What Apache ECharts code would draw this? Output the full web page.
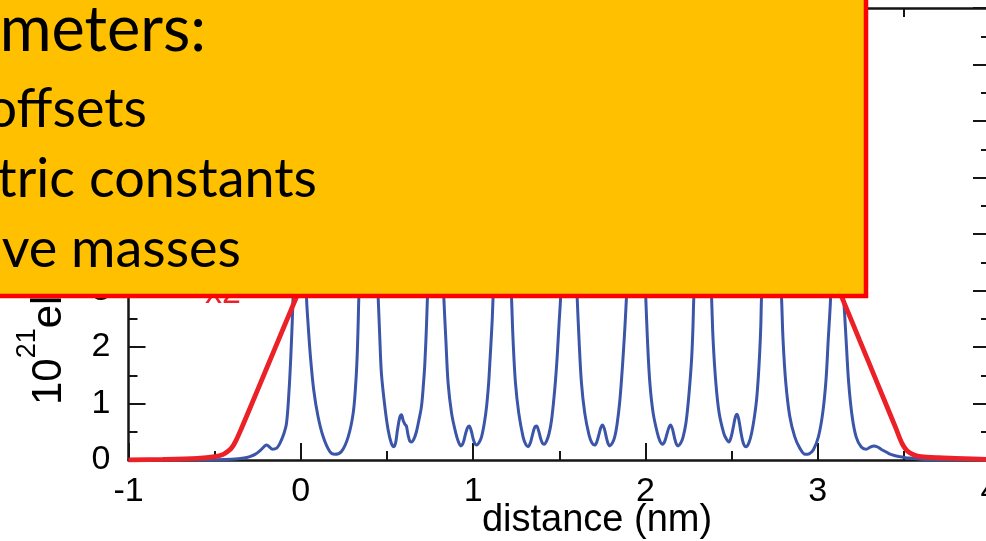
<!DOCTYPE html>
<html>
<head>
<meta charset="utf-8">
<script src="https://cdn.jsdelivr.net/npm/echarts@6/dist/echarts.min.js"></script>
<style>
  html, body { margin: 0; padding: 0; background: #ffffff; overflow: hidden; }
  #chart { width: 986px; height: 541px; }
</style>
</head>
<body>
<div id="chart"></div>
<script>
// Electron density across the superlattice (blue) and the band-edge profile scaled x2 (red)
const blueX = [
  -1.0, -0.7, -0.5, -0.4, -0.33, -0.296, -0.265, -0.238, -0.215, -0.2, -0.185, -0.164, -0.14, -0.122, -0.1, -0.083, -0.068, -0.058, -0.05, -0.045,
  -0.035, -0.025, -0.015, -0.006, 0.004, 0.014, 0.024, 0.033, 0.042, 0.056, 0.075, 0.1, 0.13, 0.168, 0.197, 0.236, 0.275, 0.304, 0.319, 0.327, 0.333, 0.337,
  0.35, 0.365, 0.38, 0.392, 0.405, 0.42, 0.435, 0.449,
  0.459, 0.468, 0.488, 0.507, 0.525, 0.54, 0.55, 0.561, 0.574, 0.584, 0.594, 0.605, 0.613, 0.622, 0.632, 0.642, 0.655, 0.671, 0.685, 0.7, 0.712, 0.72, 0.73, 0.735,
  0.748, 0.762, 0.772, 0.782, 0.792, 0.805, 0.818, 0.83,
  0.842, 0.855, 0.875, 0.9, 0.915, 0.929, 0.942, 0.955, 0.967, 0.977, 0.988, 1.0, 1.01, 1.02, 1.035, 1.049, 1.065, 1.078, 1.09, 1.097, 1.11, 1.116,
  1.13, 1.145, 1.158, 1.169, 1.18, 1.195, 1.21, 1.223,
  1.232, 1.246, 1.265, 1.29, 1.305, 1.319, 1.332, 1.345, 1.358, 1.368, 1.38, 1.392, 1.402, 1.412, 1.427, 1.441, 1.455, 1.468, 1.478, 1.488, 1.499, 1.508,
  1.52, 1.535, 1.546, 1.556, 1.566, 1.578, 1.592, 1.604,
  1.615, 1.629, 1.648, 1.673, 1.69, 1.706, 1.718, 1.73, 1.742, 1.751, 1.762, 1.775, 1.785, 1.793, 1.808, 1.822, 1.835, 1.85, 1.862, 1.872, 1.882, 1.89,
  1.905, 1.92, 1.935, 1.946, 1.958, 1.972, 1.988, 2.002,
  2.012, 2.026, 2.045, 2.07, 2.085, 2.1, 2.112, 2.125, 2.137, 2.146, 2.157, 2.17, 2.18, 2.19, 2.205, 2.219, 2.235, 2.248, 2.258, 2.269, 2.276, 2.281,
  2.295, 2.31, 2.322, 2.332, 2.343, 2.357, 2.371, 2.384,
  2.393, 2.409, 2.428, 2.455, 2.47, 2.484, 2.497, 2.51, 2.522, 2.532, 2.543, 2.555, 2.568, 2.583, 2.6, 2.616, 2.632, 2.645, 2.655, 2.664, 2.67, 2.674,
  2.69, 2.705, 2.72, 2.731, 2.743, 2.758, 2.775, 2.79,
  2.799, 2.815, 2.838, 2.867, 2.896, 2.927, 2.95, 2.975, 3.004, 3.029, 3.048, 3.061, 3.075,
  3.085, 3.095, 3.104, 3.112, 3.12, 3.13, 3.14, 3.148,
  3.156, 3.165, 3.18, 3.2, 3.223, 3.252, 3.281, 3.305, 3.326, 3.348, 3.368, 3.392, 3.416, 3.445, 3.474, 3.51, 3.55, 3.6, 3.65, 3.8, 4.0
];
const blueY = [
  0, 0, 0.005, 0.015, 0.035, 0.06, 0.1, 0.16, 0.23, 0.265, 0.24, 0.19, 0.21, 0.29, 0.45, 0.65, 1.24, 1.83, 2.42, 2.88,
  3.9, 5.0, 6.0, 6.5, 6.0, 5.0, 3.9, 2.88, 2.42, 1.83, 1.24, 0.77, 0.41, 0.15, 0.1, 0.15, 0.41, 0.83, 1.36, 1.83, 2.42, 2.88,
  3.7, 4.8, 5.7, 6.0, 5.7, 4.8, 3.7, 2.88,
  2.12, 1.53, 0.94, 0.53, 0.3, 0.235, 0.3, 0.53, 0.75, 0.8, 0.7, 0.63, 0.6, 0.45, 0.34, 0.32, 0.36, 0.5, 0.7, 0.94, 1.35, 1.71, 2.42, 2.88,
  3.8, 4.9, 5.6, 5.9, 5.6, 4.9, 3.8, 2.88,
  2.12, 1.36, 0.83, 0.47, 0.32, 0.25, 0.3, 0.45, 0.57, 0.6, 0.53, 0.38, 0.29, 0.265, 0.31, 0.41, 0.65, 0.94, 1.35, 1.71, 2.42, 2.88,
  3.8, 4.9, 5.6, 5.9, 5.6, 4.9, 3.8, 2.88,
  2.12, 1.36, 0.83, 0.41, 0.28, 0.235, 0.3, 0.45, 0.58, 0.6, 0.52, 0.38, 0.3, 0.28, 0.34, 0.47, 0.7, 1.06, 1.4, 1.83, 2.42, 2.88,
  3.8, 4.9, 5.6, 5.9, 5.6, 4.9, 3.8, 2.88,
  2.12, 1.36, 0.83, 0.44, 0.3, 0.265, 0.32, 0.45, 0.58, 0.62, 0.55, 0.38, 0.28, 0.25, 0.3, 0.41, 0.62, 1.0, 1.45, 1.9, 2.4, 2.88,
  3.8, 4.9, 5.6, 5.9, 5.6, 4.9, 3.8, 2.88,
  2.12, 1.36, 0.83, 0.47, 0.33, 0.28, 0.33, 0.46, 0.58, 0.62, 0.55, 0.38, 0.28, 0.25, 0.3, 0.41, 0.65, 1.0, 1.35, 1.83, 2.35, 2.88,
  3.8, 4.9, 5.6, 5.9, 5.6, 4.9, 3.8, 2.88,
  2.12, 1.36, 0.83, 0.47, 0.37, 0.32, 0.4, 0.58, 0.76, 0.81, 0.7, 0.48, 0.3, 0.235, 0.3, 0.47, 0.75, 1.06, 1.45, 1.94, 2.4, 2.88,
  3.8, 4.9, 5.6, 5.9, 5.6, 4.9, 3.8, 2.88,
  2.12, 1.36, 0.77, 0.41, 0.21, 0.1, 0.11, 0.18, 0.41, 0.83, 1.41, 2.12, 2.88,
  3.9, 5.0, 5.8, 6.2, 5.8, 5.0, 3.9, 3.0,
  2.6, 2.12, 1.36, 0.77, 0.41, 0.235, 0.19, 0.23, 0.25, 0.23, 0.19, 0.15, 0.11, 0.08, 0.06, 0.04, 0.03, 0.015, 0.01, 0, 0
];
const redX = [
  -1.0, -0.8, -0.6, -0.5, -0.45, -0.42, -0.4, -0.38, -0.35, -0.3, -0.2, -0.1, -0.025,
  0.05, 0.1, 0.2, 0.25, 0.35, 0.6, 1.0, 1.5, 2.0, 2.5, 2.8, 2.85, 2.9, 3.0, 3.1,
  3.147, 3.2, 3.3, 3.4, 3.45, 3.49, 3.52, 3.56, 3.6, 3.7, 3.8, 3.9, 4.0
];
const redY = [
  0, 0.01, 0.03, 0.06, 0.1, 0.16, 0.22, 0.32, 0.52, 0.88, 1.61, 2.34, 2.885,
  3.43, 3.8, 4.5, 4.85, 5.3, 5.35, 5.4, 5.4, 5.4, 5.35, 5.3, 5.0, 4.66, 3.92, 3.18,
  2.83, 2.44, 1.7, 0.96, 0.59, 0.29, 0.16, 0.09, 0.06, 0.04, 0.03, 0.02, 0.01
];
const xRange = [-1, 4];
const yRange = [0, 8];
const xTitle = 'distance (nm)';
const yTitleBase = '10';
const yTitleExp = '21';
const yTitleRest = 'electrons/cm³';
const scaleNote = 'x2';
const boxLines = ['Parameters:', 'band offsets', 'dielectric constants', 'effective masses'];

const ink = '#151515';
const tickFont = 'Liberation Sans, Arial, Helvetica, sans-serif';

function axisBase(showLabels) {
  return {
    type: 'value',
    axisLine: { show: true, onZero: false, lineStyle: { color: ink, width: 2.5 } },
    axisTick: { show: true, inside: true, length: 17, lineStyle: { color: ink, width: 2 } },
    minorTick: { show: true, splitNumber: 2, length: 9, lineStyle: { color: ink, width: 2 } },
    splitLine: { show: false },
    minorSplitLine: { show: false },
    axisLabel: { show: showLabels, color: '#000', fontFamily: tickFont, fontSize: 34 }
  };
}

// Vertical axis title, read bottom to top: base, raised exponent, then the unit
const yTitleSize = 42;
const yTitleExpSize = 27;
const yTitleStart = 405;
const baseLen = yTitleBase.length * 0.556 * yTitleSize;
const expLen = yTitleExp.length * 0.556 * yTitleExpSize;

function verticalText(text, x, y, size) {
  return {
    type: 'text', x: x, y: y, rotation: Math.PI / 2, z: 5,
    style: { text: text, fill: '#000', font: size + 'px Liberation Sans, Arial, sans-serif', align: 'left', verticalAlign: 'middle' }
  };
}

const chart = echarts.init(document.getElementById('chart'), null, { renderer: 'canvas' });

const option = {
  animation: false,
  backgroundColor: '#ffffff',
  grid: { left: 128.5, top: 8, width: 861.5, height: 452, containLabel: false, outerBoundsMode: 'none' },
  xAxis: [
    Object.assign(axisBase(true), { position: 'bottom', min: xRange[0], max: xRange[1], interval: 1,
      axisLabel: { show: true, color: '#000', fontFamily: tickFont, fontSize: 34, margin: 15 } }),
    Object.assign(axisBase(false), { position: 'top', min: xRange[0], max: xRange[1], interval: 1 })
  ],
  yAxis: [
    Object.assign(axisBase(true), { position: 'left', min: yRange[0], max: yRange[1], interval: 1,
      axisLabel: { show: true, color: '#000', fontFamily: tickFont, fontSize: 34, margin: 18 } }),
    Object.assign(axisBase(false), { position: 'right', min: yRange[0], max: yRange[1], interval: 1 })
  ],
  series: [
    {
      name: 'density',
      type: 'line',
      xAxisIndex: 0, yAxisIndex: 0,
      data: blueX.map((x, i) => [x, blueY[i]]),
      showSymbol: false, symbol: 'none',
      smooth: 0.35,
      lineStyle: { color: '#3b56a8', width: 3 },
      z: 2
    },
    {
      name: 'profile x2',
      type: 'line',
      xAxisIndex: 0, yAxisIndex: 0,
      data: redX.map((x, i) => [x, redY[i]]),
      showSymbol: false, symbol: 'none',
      smooth: 0.3,
      lineStyle: { color: '#ec2027', width: 4.8 },
      z: 3
    }
  ],
  graphic: [
    {
      type: 'text', x: 597, y: 521, z: 5,
      style: { text: xTitle, fill: '#000', font: '38px Liberation Sans, Arial, sans-serif', align: 'center', verticalAlign: 'middle' }
    },
    verticalText(yTitleBase, 49, yTitleStart, yTitleSize),
    verticalText(yTitleExp, 28, yTitleStart - baseLen, yTitleExpSize),
    verticalText(yTitleRest, 49, yTitleStart - baseLen - expLen, yTitleSize),
    {
      type: 'text', x: 205, y: 294, z: 50,
      style: { text: scaleNote, fill: '#ec2027', font: '34px Liberation Sans, Arial, sans-serif', align: 'left', verticalAlign: 'middle' }
    },
    {
      type: 'rect', z: 100,
      shape: { x: -20, y: -20, width: 886, height: 316 },
      style: { fill: '#ffc000', stroke: '#ff0000', lineWidth: 4.5 }
    },
    {
      type: 'text', x: 206, y: 31, z: 101,
      style: { text: boxLines[0], fill: '#000', font: '63px Lato, sans-serif', align: 'right', verticalAlign: 'middle' }
    },
    {
      type: 'text', x: 147, y: 110, z: 101,
      style: { text: boxLines[1], fill: '#000', font: '54px Lato, sans-serif', align: 'right', verticalAlign: 'middle' }
    },
    {
      type: 'text', x: 317, y: 180, z: 101,
      style: { text: boxLines[2], fill: '#000', font: '54px Lato, sans-serif', align: 'right', verticalAlign: 'middle' }
    },
    {
      type: 'text', x: 241, y: 250, z: 101,
      style: { text: boxLines[3], fill: '#000', font: '54px Lato, sans-serif', align: 'right', verticalAlign: 'middle' }
    }
  ]
};

chart.setOption(option);
</script>
</body>
</html>
